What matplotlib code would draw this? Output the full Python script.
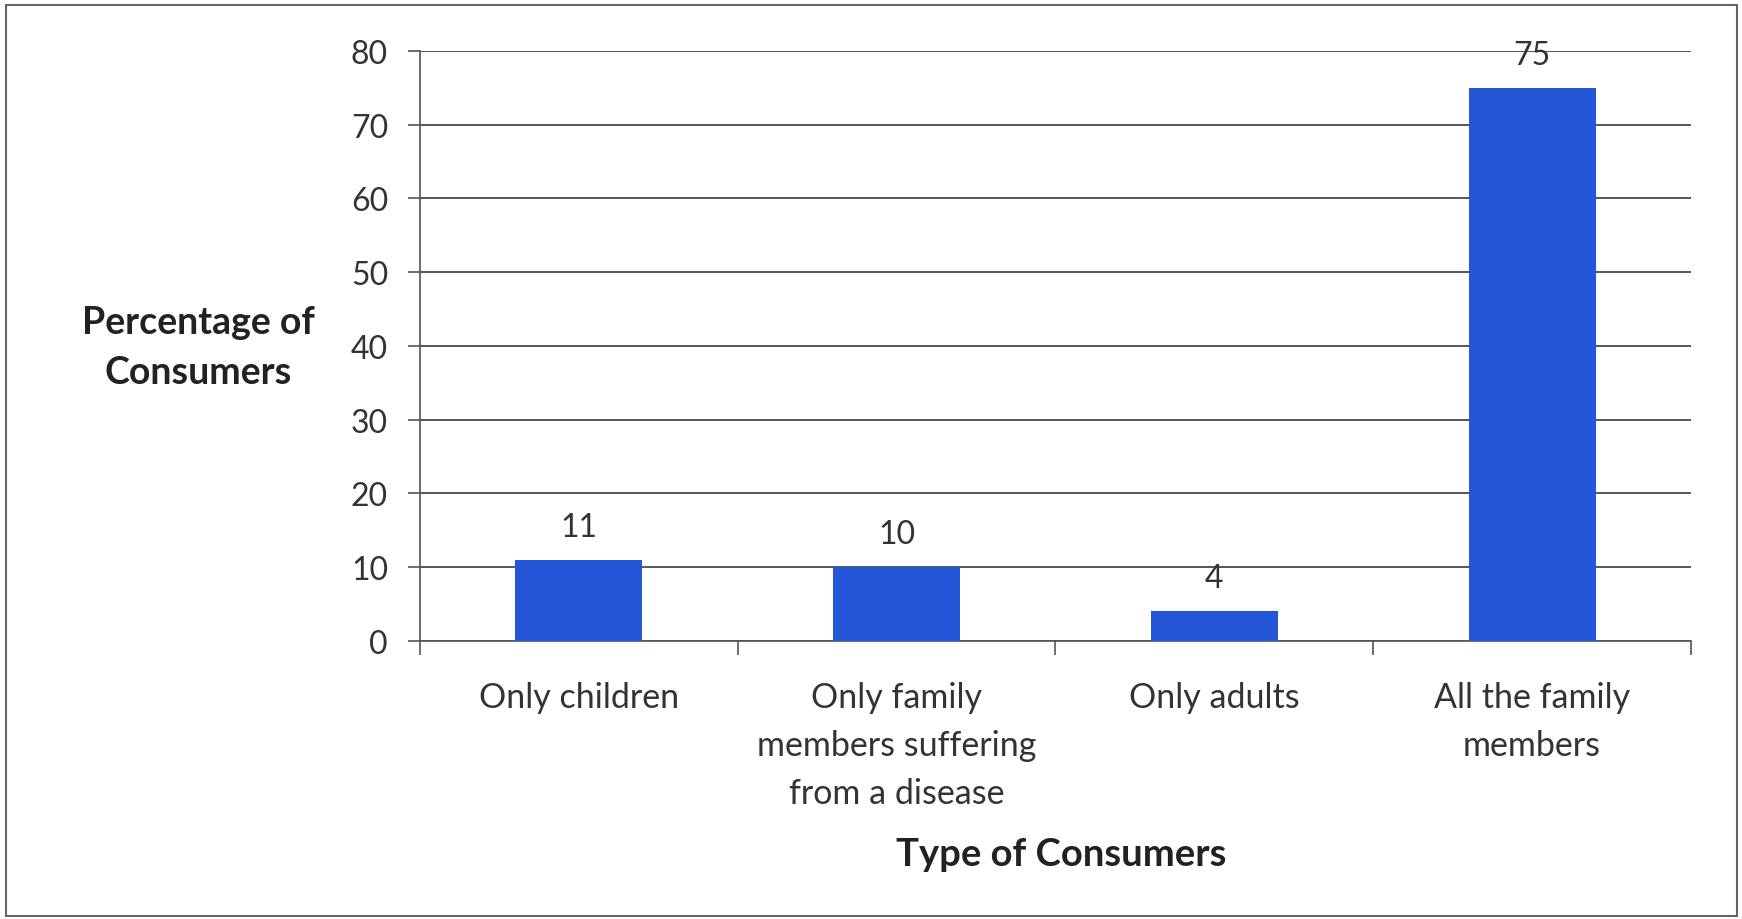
import matplotlib.pyplot as plt
from matplotlib.patches import Rectangle

categories = ["Only children", "Only family\nmembers suffering\nfrom a disease", "Only adults", "All the family\nmembers"]
values = [11, 10, 4, 75]
yticks = [0, 10, 20, 30, 40, 50, 60, 70, 80]

plt.rcParams['font.family'] = ['Lato', 'DejaVu Sans']

fig = plt.figure(figsize=(17.42, 9.2), dpi=100)
ax = fig.add_axes([0.2411, 0.3022, 0.7296, 0.6413])

x = list(range(len(categories)))
bars = ax.bar(x, values, width=0.4, color='#2456D8', zorder=3)
for b, v in zip(bars, values):
    ax.annotate(str(v), (b.get_x() + b.get_width() / 2, v), xytext=(0, 24),
                textcoords='offset points', ha='center', va='center',
                fontsize=23, color='#333333', zorder=4)

ax.set_xlim(-0.5, len(categories) - 0.5)
ax.set_ylim(0, 80)
ax.set_yticks(yticks)
ax.yaxis.grid(True, color='#3a3a3a', linewidth=1.2, zorder=0)
ax.set_axisbelow(True)

ax.set_xticks(x)
ax.set_xticklabels(categories, fontsize=24.5, color='#333333', linespacing=1.62, va='top')
ax.set_xticks([i - 0.5 for i in range(len(categories) + 1)], minor=True)
ax.tick_params(axis='x', which='major', length=0, pad=29)
ax.tick_params(axis='x', which='minor', length=10, width=1.2, color='#555555', direction='out')
ax.tick_params(axis='y', length=9, width=1.2, color='#555555', labelsize=23, labelcolor='#333333', pad=14)

for s in ['top', 'right']:
    ax.spines[s].set_visible(False)
for s in ['left', 'bottom']:
    ax.spines[s].set_color('#555555')
    ax.spines[s].set_linewidth(1.2)

fig.text(0.1137, 0.6217, "Percentage of\nConsumers", ha='center', va='center',
         fontsize=27, fontweight='bold', color='#222222', linespacing=1.6)
fig.text(0.609, 0.0707, "Type of Consumers", ha='center', va='center',
         fontsize=27.5, fontweight='bold', color='#222222')

fig.patches.append(Rectangle((0.0034, 0.003), 0.9936, 0.990, transform=fig.transFigure,
                             fill=False, edgecolor='#666666', linewidth=1.5))

fig.savefig("out.png", dpi=100)
